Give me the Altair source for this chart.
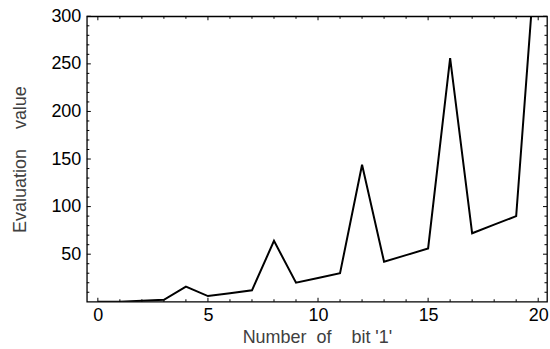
import altair as alt
import pandas as pd

# Evaluation value for each count of '1' bits
bits = [0, 1, 2, 3, 4, 5, 6, 7, 8, 9, 10, 11, 12, 13, 14, 15, 16, 17, 18, 19, 20]
evaluation = [0, 0, 1, 2, 16, 6, 9, 12, 64, 20, 25, 30, 144, 42, 49, 56, 256, 72, 81, 90, 400]

# Axis label positions and frame tick positions
x_labels = [0, 5, 10, 15, 20]
y_labels = [50, 100, 150, 200, 250, 300]
x_major = [0, 5, 10, 15, 20]
x_minor = [1, 2, 3, 4, 6, 7, 8, 9, 11, 12, 13, 14, 16, 17, 18, 19]
y_major = [50, 100, 150, 200, 250, 300]
y_minor = [10, 20, 30, 40, 60, 70, 80, 90, 110, 120, 130, 140, 160, 170, 180,
           190, 210, 220, 230, 240, 260, 270, 280, 290]

W, H = 461, 286
FONT = "Liberation Sans"
NB = "\u00a0"

xs = alt.Scale(domain=[-0.5, 20.4], nice=False, zero=False)
ys = alt.Scale(domain=[0, 300], nice=False, zero=False)

x_axis = alt.Axis(values=x_labels, ticks=False, domain=False, grid=False,
                  labelFontSize=18, labelFont=FONT, labelColor="black",
                  labelPadding=5,
                  title=f"Number{NB}{NB}of{NB}{NB}{NB}{NB}bit{NB}'1'",
                  titleFont=FONT, titleFontSize=18, titleFontWeight="normal",
                  titleColor="#404040", titlePadding=4)
y_axis = alt.Axis(values=y_labels, ticks=False, domain=False, grid=False,
                  labelFontSize=18, labelFont=FONT, labelColor="black",
                  labelPadding=6,
                  title=f"Evaluation{NB}{NB}{NB}{NB}value",
                  titleFont=FONT, titleFontSize=18, titleFontWeight="normal",
                  titleColor="#404040", titlePadding=21)

df = pd.DataFrame({"bits": bits, "evaluation": evaluation})

line = alt.Chart(df).mark_line(color="black", strokeWidth=2, clip=True).encode(
    x=alt.X("bits:Q", scale=xs, axis=x_axis),
    y=alt.Y("evaluation:Q", scale=ys, axis=y_axis),
)


def x_ticks(vals, length):
    d = pd.DataFrame({"bits": vals})
    base = alt.Chart(d).mark_rule(color="black", strokeWidth=1)
    bottom = base.encode(x=alt.X("bits:Q", scale=xs, axis=x_axis),
                         y=alt.value(H), y2=alt.value(H - length))
    top = base.encode(x=alt.X("bits:Q", scale=xs, axis=x_axis),
                      y=alt.value(0), y2=alt.value(length))
    return [bottom, top]


def y_ticks(vals, length):
    d = pd.DataFrame({"evaluation": vals})
    base = alt.Chart(d).mark_rule(color="black", strokeWidth=1)
    left = base.encode(y=alt.Y("evaluation:Q", scale=ys, axis=y_axis),
                       x=alt.value(0), x2=alt.value(length))
    right = base.encode(y=alt.Y("evaluation:Q", scale=ys, axis=y_axis),
                        x=alt.value(W), x2=alt.value(W - length))
    return [left, right]


layers = [line]
layers += x_ticks(x_major, 4) + x_ticks(x_minor, 2.5)
layers += y_ticks(y_major, 4) + y_ticks(y_minor, 2.5)

chart = alt.layer(*layers).properties(
    width=W, height=H,
    autosize="none",
    padding={"left": 87, "top": 16, "right": 3, "bottom": 47},
    background="white",
).configure_view(stroke="black", strokeWidth=1.3)

chart.save("out.html", embed_options={"renderer": "svg", "actions": False})
